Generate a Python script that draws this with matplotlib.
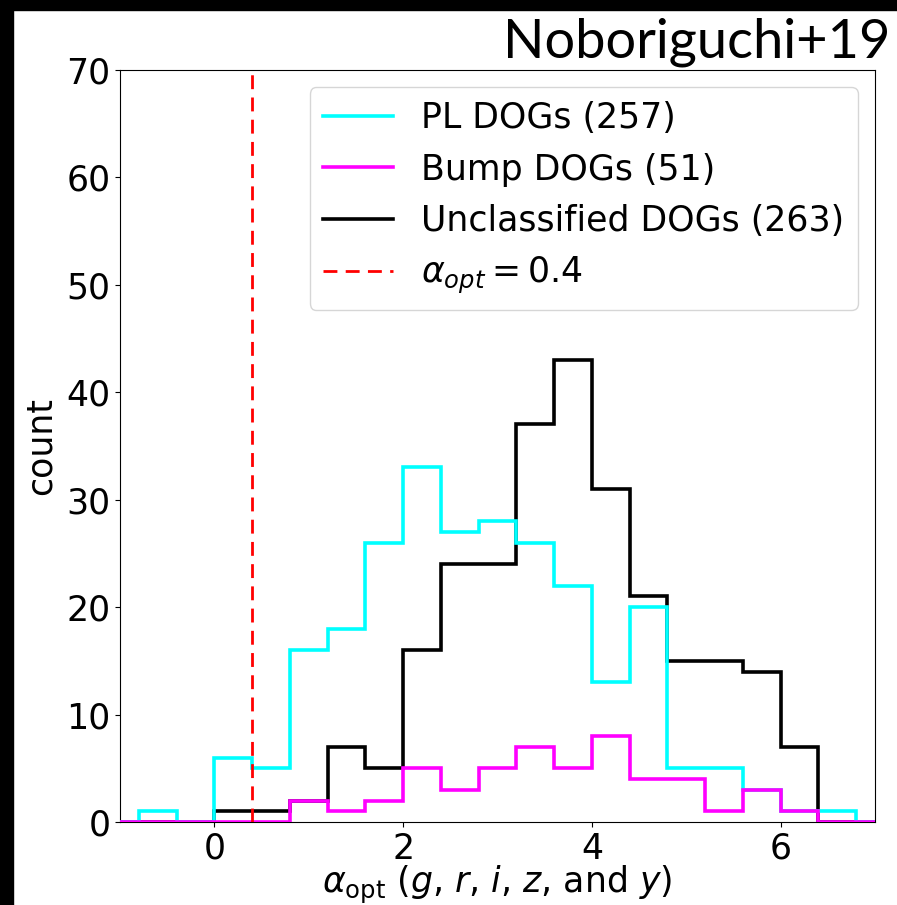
import numpy as np
import matplotlib
matplotlib.use("Agg")
import matplotlib.pyplot as plt
from matplotlib.patches import Rectangle
from matplotlib.lines import Line2D

# bin edges of the histograms (width 0.4)
edges = np.round(np.arange(-2.0, 8.01, 0.4), 2)

# counts per bin
pl_counts = [0, 0, 0, 1, 0, 6, 5, 16, 18, 26, 33, 27, 28, 26, 22, 13, 20,
             5, 5, 3, 1, 1, 0, 0, 0]
bump_counts = [0, 0, 0, 0, 0, 0, 0, 2, 1, 2, 5, 3, 5, 7, 5, 8, 4,
               4, 1, 3, 1, 0, 0, 0, 0]
uncl_counts = [0, 0, 0, 0, 0, 1, 1, 2, 7, 5, 16, 24, 24, 37, 43, 31, 21,
               15, 15, 14, 7, 0, 0, 0, 0]

labels = ["PL DOGs (257)", "Bump DOGs (51)", "Unclassified DOGs (263)"]
colors = ["cyan", "magenta", "black"]
zorders = [3, 4, 2]
alpha_cut = 0.4

fig = plt.figure(figsize=(8.97, 9.05), dpi=100)
ax = fig.add_axes([0.1338, 0.0917, 0.8417, 0.831])

for counts, lab, c, z in zip([pl_counts, bump_counts, uncl_counts], labels, colors, zorders):
    ax.stairs(counts, edges, color=c, lw=2.6, label=lab, zorder=z)
ax.axvline(alpha_cut, color="red", ls=(0, (5, 3)), lw=2, zorder=5)

ax.set_xlim(-1, 7)
ax.set_ylim(0, 70)
ax.tick_params(labelsize=25)
ax.set_xlabel(r"$\alpha_{\rm opt}$ ($g$, $r$, $i$, $z$, and $y$)", fontsize=25, labelpad=-1)
ax.set_ylabel("count", fontsize=25, labelpad=6)

# legend in the original order (PL, Bump, Unclassified, cut)
leg_handles = [Line2D([], [], color=c, lw=2.6) for c in colors]
leg_handles.append(Line2D([], [], color="red", ls=(0, (5, 3)), lw=2))
ax.legend(leg_handles, labels + [r"$\alpha_{opt} = 0.4$"], loc="upper right",
          fontsize=25, handlelength=2)

fig.text(0.993, 0.937, "Noboriguchi+19", ha="right", va="baseline",
         fontsize=39, family="Lato")

# black border strips of the original screenshot
fig.patches.append(Rectangle((0, 0), 13 / 897, 1, transform=fig.transFigure,
                             color="black", zorder=10))
fig.patches.append(Rectangle((0, 1 - 10 / 905), 1, 10 / 905, transform=fig.transFigure,
                             color="black", zorder=10))

fig.savefig("out.png", dpi=100)
